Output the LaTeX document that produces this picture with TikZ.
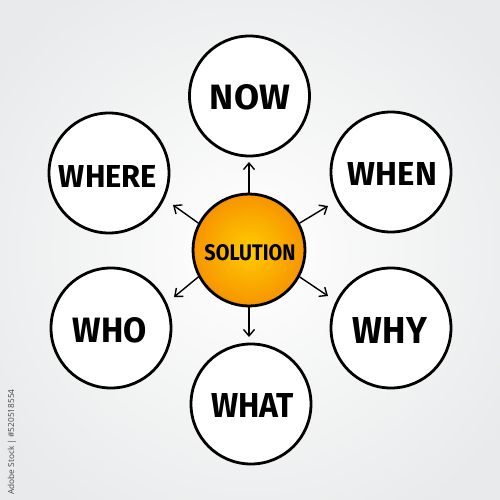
\documentclass[tikz,border=0pt]{standalone}
\usepackage{fontspec}
\setmainfont{Fira Sans}
\newfontfamily\credfont{Open Sans}
\usepackage{graphicx}
\usetikzlibrary{arrows.meta}
\definecolor{bgedge}{RGB}{233,234,235}
\definecolor{orin}{RGB}{255,204,0}
\definecolor{orout}{RGB}{247,148,0}
\tikzset{
  bubble/.style={circle, draw=black, line width=2.8pt, fill=white, minimum size=120pt, inner sep=0pt},
  hub/.style={circle, draw=black, line width=2.8pt, inner color=orin, outer color=orout, minimum size=112pt, inner sep=0pt},
  link/.style={line width=1.4pt, -{Straight Barb[length=6.5pt,width=11pt,line width=1.4pt]}},
}
\newcommand{\lbl}[3]{\resizebox{#1pt}{#2pt}{\bfseries #3}}
\begin{document}
\begin{tikzpicture}[x=1pt,y=-1pt]
\useasboundingbox (0,0) rectangle (500,500);
\shade[inner color=white, outer color=bgedge] (-60,-60) rectangle (560,560);
\node[hub] (sol) at (249,250) {};
\node at (250,253) {\lbl{91}{16}{SOLUTION}};
\node[bubble] (now) at (249.5,96) {};
\node at (250,97.5) {\lbl{80}{25}{NOW}};
\node[bubble] (when) at (391,172) {};
\node at (392.5,173.5) {\lbl{89}{23}{WHEN}};
\node[bubble] (where) at (109,173) {};
\node at (108,176) {\lbl{98}{22}{WHERE}};
\node[bubble] (who) at (111,328) {};
\node at (110,330.5) {\lbl{74}{25}{WHO}};
\node[bubble] (why) at (391,328) {};
\node at (390,330) {\lbl{74}{26}{WHY}};
\node[bubble] (what) at (251,404) {};
\node at (252.5,405) {\lbl{83}{24}{WHAT}};
\coordinate (tnow) at (249,162);
\coordinate (twhen) at (328,206);
\coordinate (twhere) at (173,205);
\coordinate (twho) at (174,297);
\coordinate (twhy) at (328,296);
\coordinate (twhat) at (249,337);
\draw[link] (sol.90) -- (tnow);
\draw[link] (sol.28) -- (twhen);
\draw[link] (sol.152) -- (twhere);
\draw[link] (sol.208) -- (twho);
\draw[link] (sol.332) -- (twhy);
\draw[link] (sol.270) -- (twhat);
\node[rotate=90, text=black!72, font=\credfont\fontsize{8.3}{9}\selectfont, inner sep=0pt] (cred) at (12,442) {Adobe Stock | \#520518554};
\end{tikzpicture}
\end{document}
